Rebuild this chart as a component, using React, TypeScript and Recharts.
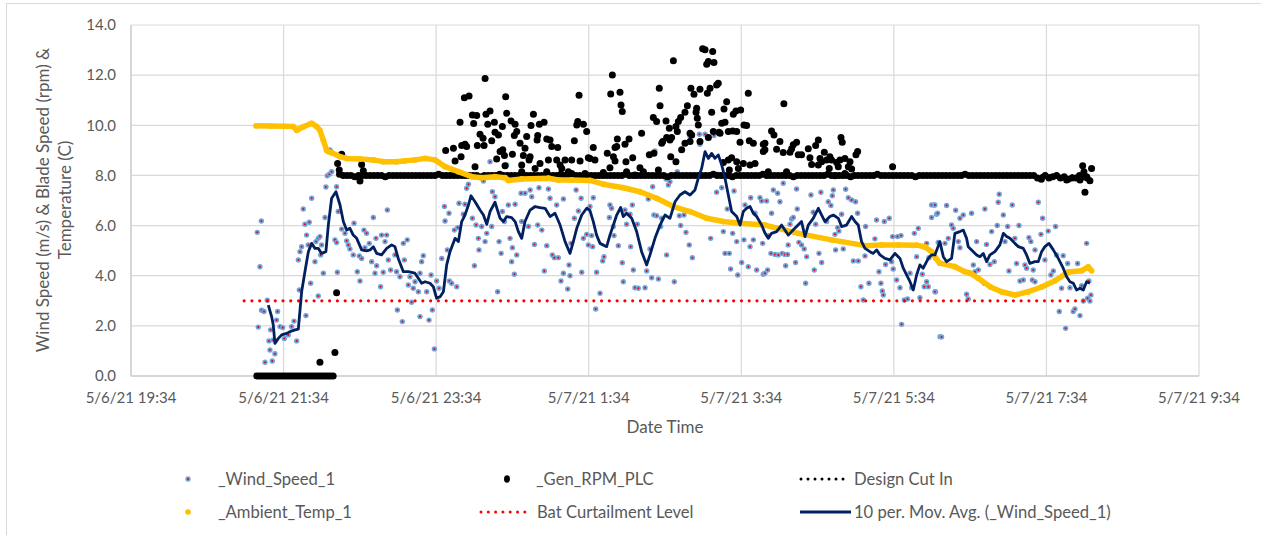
import React from 'react'
import { ScatterChart, Scatter, XAxis, YAxis, CartesianGrid } from 'recharts'

// x = minutes after 5/6/21 19:34
const xTicks = [0, 120, 240, 360, 480, 600, 720, 840]
const xTickLabels = ['5/6/21 19:34', '5/6/21 21:34', '5/6/21 23:34', '5/7/21 1:34', '5/7/21 3:34', '5/7/21 5:34', '5/7/21 7:34', '5/7/21 9:34']
const yTicks = [0, 2, 4, 6, 8, 10, 12, 14]

const windSpeed: number[][] = [
  [99.3,5.73],[102.5,6.18],[101.4,4.36],[107.2,3.02],[102.7,2.62],[104.6,2.57],[100.1,1.95],[105.4,0.55],[109.3,1.04],[111.1,0.6],
  [113.2,0.89],[109.8,1.84],[114.5,2.23],[115.3,2.57],[111.9,1.44],[108.5,1.4],[117.2,1.97],[119.3,1.93],[120.6,1.5],[123.7,1.64],
  [126.3,1.97],[128.2,2.19],[130.3,1.4],[132.4,3.43],[131.6,4.63],[132.9,4.96],[134.2,5.16],[135.5,6.66],[137.6,2.41],[136.8,6.05],
  [138.1,5.62],[139.4,5.23],[140.2,6.13],[141.3,3.7],[142.1,7.09],[144.7,4.56],[145.5,5.36],[147.3,5.49],[148.6,5.56],[149.9,5.23],
  [149.2,4.83],[147.3,3.19],[151.3,4.1],[152.6,6.32],[153.3,7.54],[154.4,7.99],[156,8.05],[157.8,8.15],[156.5,9.02],[161.7,7.55],
  [163,6.56],[160.4,5.43],[161.7,5.32],[162.3,4.14],[165.7,5.86],[168.3,5.69],[170.9,5.23],[172.2,5.07],[169.6,5.39],[175.4,6.09],
  [174.8,4.83],[178,4.16],[180.1,3.79],[179.6,4.79],[181.4,4.69],[183.2,5.82],[185.3,5.69],[184,5.12],[187.4,5.29],[189.3,4.56],
  [190.6,6.32],[192.7,5.49],[193.2,4.4],[191.9,4.1],[196.3,3.56],[197.1,5.62],[199.8,5.36],[201.1,5.62],[198.4,4.14],[201.6,6.62],
  [202.4,4.63],[204.2,4.23],[207.6,4.83],[208.9,4.16],[209.5,2.63],[213.4,2.17],[211.5,3.96],[215,4.63],[214.2,5.29],[217.3,5.43],
  [219.4,3.96],[220.7,2.94],[222,3.5],[218.1,3.63],
  [223.4,3.76],[227.3,4.1],[228.6,4.56],[229.9,4.8],[226,3.36],[227.3,2.37],[234.4,2.23],[232.6,3.36],[236,4.03],[237,2.63],
  [238.6,1.08],[240.4,3.79],[242.3,3.5],[244.4,4.69],[248.8,5.03],[250.4,3.79],[252.2,3.7],[256.2,3.56],[247,6.18],[250.1,6.49],
  [254.3,5.82],[257,5.92],[258,6.89],[262.7,6.85],[264,7.49],[265.4,7.65],[261.4,6.45],[268.5,6.29],[270.1,4.4],[271.4,6.02],
  [273.2,5.49],[273.7,5.03],[275.8,5.96],[278.5,5.36],[279.8,5.69],[283.7,5.96],[282.4,8.55],[284.2,7.35],[286.3,7.15],[289.5,5.36],
  [291.1,4.89],[292.1,6.56],[293.7,6.16],[288.4,3.36],[295.5,8.42],[296.8,6.82],[298.1,5.49],[300,5.12],[302.1,6.85],[303.4,4.83],
  [299.4,4.56],[301.5,4.06],[306.8,7.29],[307.3,6.16],[309.9,7.29],[312.6,5.96],[313.9,7.42],[315.2,7.15],[317.3,5.25],[320.9,7.51],
  [319.9,6.02],[323.1,5.82],[325.1,4.19],[327,5.2],[328.3,7.46],[329.6,7.09],[331.4,4.83],[333,4.72],[334.8,6.82],[336.1,4.72],
  [338.2,3.79],[340.1,7.06],[340.1,4.1],[343.5,3.47],[344.5,4.43],[345.3,4],[346.1,5.29],[348.7,6.29],[350.1,7.42],[351.9,6.58],
  [354.5,4.14],[354,7.09],[355.8,5.49],[358.4,5.65],[359.7,5.23],[277.2,7.78],[246.5,6.76],
  [363.6,7.11],[361,6.76],[362.3,5.6],[363.1,5.16],[366.2,4.14],[372,4.76],[371,4.59],[368.9,3.3],[365.5,2.67],[376.7,6.82],
  [378,6.69],[376.2,6.32],[379.4,5.96],[379.9,5.6],[383.3,5.2],[386.4,4.52],[387.2,3.76],[388.5,6.62],[392.5,6.45],[389.8,6.05],
  [394.3,6.82],[398.2,6.05],[393,5.16],[395.1,4.23],[396.4,3.52],[399,3.5],[404.3,3.52],[405.6,4.19],[408.2,5.07],[409.5,3.92],
  [414.8,3.87],[406.9,7.06],[410.3,7.55],[411.3,6.42],[413.4,6.39],[417.4,6.29],[416.6,5.96],[420.8,7.86],[422.6,7.62],[423.9,7.75],
  [429.7,8.15],[421.3,4.83],[427.3,3.76],[431.3,6.39],[432.3,6],[436.5,5.73],[434.9,6.42],[439.1,5.23],[441.5,4.72],[439.7,9.55],
  [447.5,9.24],[447,9.64],[451.5,9.64],[458.5,9.59],[462.7,9.72],[461.4,8.05],[460.6,7.33],[464.6,7.51],[455.9,5.49],[465.9,5.76],
  [469,6.66],[467.2,4.89],[470.6,4.89],[471.6,4.27],[473.2,5.69],[474.3,7.38],[476.4,5.36],[477.2,4.03],[480.3,4.53],[482.1,5.43],
  [482.9,6.82],[485.5,4.36],[486.9,5.16],[487.4,7.11],[489.5,5.43],[490.8,6.49],[492.1,4.23],[494.7,7.11],[496,6.98],[496.8,5.29],
  [497.3,4.06],[389.3,9.28],[412.1,8.98],
  [499.9,6.98],[501.2,5.6],[500.7,4.23],[498.6,4.1],[503.8,6.49],[505.2,7.42],[508.6,7.29],[510.4,6.95],[513,7.69],[503.3,4.89],
  [506.5,4.85],[509.1,4.83],[512.2,4.89],[514.3,4.85],[516.4,4.85],[516.9,5.23],[514.9,4.4],[518.3,6.05],[519.6,6.26],[520.9,6.32],
  [522.7,4.53],[523.5,7.46],[524,6.66],[525.3,5.33],[527.4,5.23],[529.5,5.07],[531.4,4.76],[530.6,3.7],[534.8,7.22],[536.6,6.53],
  [537.4,4.23],[538.5,6.05],[541.1,4.89],[543.2,4.53],[542.6,7.33],[547.1,6.16],[548.4,6.95],[550.5,6.8],[551.6,7.19],[552.4,7.42],
  [553.7,5.65],[554.2,5.03],[555.8,5.92],[556.8,5.78],[558.9,6.45],[560.2,5.07],[562.1,7.45],[564.2,7.11],[566.8,7.02],[569.9,6.95],
  [571.5,6.49],[568.1,4.59],[572,4.59],[577.3,4.79],[577.8,5.96],[574.1,3.56],[575.9,3.03],[580.4,3.7],[585.1,5.47],[586.4,6.22],
  [588.3,4.16],[589.8,3.7],[590.9,3.39],[591.7,3.23],[592.5,6.16],[593.5,4.45],[596.4,6.29],[598.2,4.56],[599.5,4.27],[599,5.56],
  [602.9,5.56],[605.6,5.6],[602.2,3.83],[604.8,3.52],[606.1,2.06],[608.2,3.03],[610.8,3.07],[612.7,4.1],[614,3.52],[616.1,5.69],
  [617.9,4.76],[619.2,5.89],[620.5,3.12],[622.4,4.06],[623.9,3.56],[625.8,3.76],[627.1,3.56],[625.8,5.29],[627.6,4.72],[629.7,6.82],
  [631.8,6.82],[629.7,6.32],[633.6,6.45],[632.8,3.36],[636.3,1.57],
  [632.3,6.82],[634.4,6.49],[632.3,3.36],[637.5,1.56],[641.5,6.8],[645.4,6.02],[642.8,5.49],[640.2,5.29],[634.9,5.33],[646.7,5.89],
  [648.6,6.61],[652,6.29],[654.6,6.42],[661.1,6.49],[650.7,5.36],[652,5.12],[657.2,3.26],[658.5,3.07],[662.5,4.43],[663.8,4.16],
  [665.1,5.36],[666.4,4.23],[671.1,3.7],[671.6,6.66],[672.9,5.25],[675.6,4.45],[676.9,5.76],[679,4.56],[681.3,6],[682.1,6.93],
  [682.9,7.25],[686.1,6.42],[687.4,5.36],[689.5,5.96],[690.5,4.19],[693.1,6.82],[695.2,5.49],[696.5,4.49],[698.4,6],[699.2,3.79],
  [701.8,3.83],[703.1,4.43],[704.4,4.3],[706.2,5.52],[707.8,5.36],[708.9,3.83],[711,5.03],[713.6,6.93],[715.7,5.65],[717,6.29],
  [718.8,4.63],[721.4,5.78],[723.5,4.03],[725.4,4.19],[727.2,5.96],[728,4.83],[730.1,2.57],[731.9,3.5],[733.2,4.8],[735.1,1.9],
  [736.7,4.49],[738.5,3.52],[741.1,2.57],[742.4,2.67],[744.5,4.49],[746.4,2.41],[747.7,3.6],[749,2.99],[751.6,5.29],[752.4,3.1],
  [753.4,3.79],[755,3.23],[754.2,2.99],[711,3.76],[709.6,4.23],
]

// generator RPM: idle samples (every 2 min from 99), cut-in band samples (every 3 min from 164), and excursions
const rpmIdleStart = 99
const rpmIdle = [0,0,0,0,0,0,0,0,0,0,0,0,0,0,0,0,0,0,0,0,0,0,0,0,0,0,0,0,0,0,0]
const rpmBandStart = 164
const rpmBand = [
  8.05,8,8,8,7.95,8,8,8,8,8,8,8,7.95,8,8,8,8,8,8,8,
  8,8,8,8,8,8,8.05,8,8,8,8,8,8,8,8,8,8,7.95,8,8,
  8,8,8.05,8,8,8,8,8,7.95,8,8,8,8,8,8,8,8,8,8.05,8,
  8,8,8,8,7.95,8,8,8,8,8,8,8,8,8,8,8.05,8,8,8,8,
  8,8,8,8,8,8,7.95,8,8,8,8,8,8,8,8,8,8,8,8.05,8,
  8,8,8,7.95,8,8,8,8,8,8,8,8.05,8,8,8,8,8,8,8,7.95,
  8,8,8,8,8,8,8,8,8.05,8,8,8,8,8,7.95,8,8,8,8,8,
  8,8.05,8,8,8,8,8,8,8,8,8,7.95,8,8,8,8,8,8,8,8,
  8,8,8,8,8.05,8,8,8,8,8,8,8,8,8,8,8,8,8,8,8,
  8,8,8,7.9,7.85,8,7.9,7.95,8,7.9,7.95,7.85,7.9,7.9,8,7.95,7.9,
]
const rpmExcursions: number[][] = [
  [148.6,0.55],[160.4,0.94],[161.7,3.32],[165.7,8.84],[162.5,8.48],[163.8,8.22],[181.4,8.44],[182.7,8.19],[178.8,7.95],[180.1,7.78],
  [278.5,11.87],[262.2,11.1],[265.9,11.17],[294.7,11.14],[352.4,11.2],[258.8,10.12],[268.5,10.41],[271.9,10.39],[279.2,10.44],[282.4,10.57],
  [280.6,10.04],[285.8,10.12],[295.5,10.48],[298.9,10.17],[302.1,10.04],[292.1,9.95],[269.5,10.07],[316.5,10.44],[314.6,9.99],[321.2,10.04],
  [324.9,10.12],[351.4,10.15],[350.6,10.01],[355.8,10.04],[358.4,9.75],[274.5,9.64],[286.3,9.72],[289,9.61],[276.9,9.48],[283.7,9.38],
  [301.5,9.59],[303.4,9.75],[306,9.28],[311.2,9.55],[319.9,9.59],[319.4,9.41],[327,9.45],[329.6,9.41],[330.9,9.15],[335.6,9.11],
  [348.7,9.38],[262.7,9.24],[264,9.15],[260.1,9.19],[272.4,9.19],[277.7,9.19],[247.5,8.99],[253.6,9.08],[259.6,8.75],[254.9,8.58],
  [290.3,8.95],[292.4,9.02],[293.7,8.79],[300,8.84],[309.9,9.08],[308.6,8.79],[313.9,8.75],[307.3,8.42],[313.1,8.62],[317.8,8.28],
  [321.7,8.48],[328.3,8.62],[334.8,8.62],[341.4,8.62],[346.6,8.62],[353.2,8.58],[359.7,8.71],[270.6,8.35],[287.6,8.66],[294.2,8.39],
  [307.3,8.15],[327,8.15],[337.5,8.42],[338.8,8.28],[344,8.15],[346.6,8.08],[357.1,8.08],
  [449.6,13.05],[451.5,13.01],[457.5,12.94],[452.8,12.43],[454.1,12.54],[458.5,12.5],[426.6,12.57],[378.6,12.01],[377.3,11.25],[384.6,11.32],
  [385.4,10.81],[386.4,10.55],[415.5,11.48],[416.1,10.78],[440.4,11.48],[442.8,11.24],[447.5,11.44],[453.3,11.28],[455.4,11.48],[460.6,11.61],
  [461.9,11.68],[485.5,11.28],[456.7,10.52],[437.6,10.78],[444.9,10.68],[444.4,10.52],[435.7,10.52],[432.3,10.31],[430.5,10.15],[410.8,10.31],
  [413.4,10.15],[420.8,10.17],[423.4,9.88],[428.6,9.95],[429.7,9.75],[439.7,9.68],[446.2,10.01],[445.4,10.28],[468.5,10.94],[466.4,10.65],
  [473.7,10.44],[475.8,10.57],[479.5,10.61],[464.6,10.08],[467.2,10.12],[463.3,9.68],[469.8,9.75],[473.2,9.77],[476.4,9.75],[482.1,10.01],
  [484.2,9.99],[479,9.32],[486.3,9.38],[489.5,9.28],[497.3,9.24],[401.6,9.68],[391.7,9.45],[388.5,9.24],[382.5,9.45],[382,9.15],
  [380.7,9.11],[363.6,9.11],[374.6,8.88],[379.4,8.75],[380.7,8.58],[364.9,8.62],[361,8.68],[394.6,8.71],[389.3,8.55],[407.7,8.82],
  [411.3,8.88],[418.2,9.35],[421.3,9.51],[423.9,9.41],[425.2,9.51],[417.4,9.28],[424.5,8.75],[428.6,8.55],[433.1,9.02],[435.7,9.28],
  [439.7,9.35],[441,9.61],[447.5,9.35],[454.1,9.51],[458,9.75],[462.5,9.72],[465.9,8.52],[469.8,8.62],[472.4,8.71],[476.4,8.55],
  [477.7,8.28],[481.6,8.48],[470.6,8.22],[490.8,8.48],[486.9,8.42],[497.3,8.95],[376.7,8.31],[371.5,8.12],[389.8,8.15],[400.3,8.31],
  [403,8.15],[414.8,8.22],[396.4,8.02],
  [513.5,10.86],[503.8,9.77],[505.7,9.61],[510.4,9.35],[523.5,9.32],[520.9,9.22],[540.6,9.41],[538.5,9.19],[558.4,9.51],[559.4,9.32],
  [571.5,8.95],[570.2,8.82],[507.8,9.04],[513,8.91],[518.3,8.92],[519.6,9.06],[524.8,8.82],[527.4,8.82],[532.7,9.06],[534,8.71],
  [545.3,8.92],[549.7,8.75],[551,8.62],[541.9,8.68],[543.2,8.55],[547.1,8.62],[535.3,8.44],[540.6,8.42],[557.6,8.62],[561.5,8.68],
  [565.5,8.55],[555,8.52],[498.6,9.28],[498.6,9.02],[501.2,8.15],[515.6,8.15],[549.2,8.28],[564.2,8.35],[566.8,8.26],[556.3,8.35],
  [561.5,8.08],[553.7,7.99],[599,8.35],
  [748.5,8.39],[755.5,8.28],[749.5,8.15],[751.6,7.95],[754.2,7.79],[746.4,7.82],[750.3,7.33],[735.9,7.82],
]

const designCutIn: number[][] = [[165, 8], [752, 8]]
const batCurtailment: number[][] = [[89, 3], [753, 3]]

const ambientTemp: number[][] = [
  [98.3,9.98],[110,9.97],[120,9.96],[127.7,9.95],[130.3,9.8],[136,9.95],[142.1,10.08],[146,9.95],[148.6,9.8],[151.3,9.4],
  [153.9,9],[155.2,8.95],[158,8.9],[164.4,8.75],[169.6,8.68],[180.1,8.66],[190.6,8.62],[198.4,8.55],[208.9,8.55],[215,8.58],
  [223.4,8.62],[231.3,8.68],[239.1,8.62],[247,8.35],[257.5,8.15],[268,7.95],[275.8,7.91],[286.3,7.95],[294.2,7.91],[296.8,7.8],
  [307.3,7.86],[328.3,7.89],[336.1,7.82],[346.6,7.82],[361,7.8],[371.5,7.65],[387.2,7.51],[400.3,7.35],[413.4,7.09],[426.6,6.76],
  [439.7,6.56],[452.8,6.29],[465.9,6.16],[479,6.09],[498.7,6.02],[524.8,5.69],[551,5.43],[577.3,5.2],[590.4,5.23],[603.5,5.23],
  [618,5.22],[624.5,5.15],[629.7,4.96],[633,4.7],[636,4.5],[648,4.36],[655.9,4.16],[660,4.1],[666.4,3.9],[676,3.55],
  [684.7,3.36],[695.2,3.23],[705.7,3.36],[716.2,3.55],[726.7,3.8],[737.2,4.15],[747.7,4.2],[752.9,4.35],[755.5,4.2],
]

const movingAvg: number[][] = [
  [108,2.83],[110.6,2.37],[111.9,2.03],[113.2,1.3],[115.9,1.5],[118.5,1.64],[122.4,1.7],[125,1.77],[129,1.84],[131.6,1.87],
  [134.2,3.36],[136.8,4.16],[139.5,4.96],[142.1,5.29],[144.7,5.09],[147.3,5.09],[149.9,4.89],[153.3,4.96],[155.2,6.02],[157.8,7.09],
  [161.2,7.35],[164.4,6.82],[167,6.16],[169.6,5.82],[172.2,5.89],[174.8,5.62],[177.5,5.49],[181.4,5.03],[185.3,4.99],[188,5.03],
  [190.6,5.16],[193.2,4.89],[197.1,4.83],[201.1,5.09],[205,5.23],[207.6,5.16],[210.2,4.69],[214.2,4.16],[218.1,4.16],[223.3,4.1],
  [226,3.9],[228.6,3.7],[231.3,3.76],[235.2,3.7],[237.8,3.56],[240.4,3.1],[243.1,3.16],[245.7,3.36],[248.3,4.43],[250.9,4.96],
  [254.9,5.49],[257.5,5.36],[260.1,6.16],[262.7,6.42],[265.4,6.82],[267.4,7.19],[270.6,6.95],[274.5,6.62],[277.2,6.42],[279.8,6.05],
  [282.4,6.56],[286.3,6.93],[290.3,6.29],[292.9,6.16],[295.5,6.36],[299.4,6.32],[302.1,6.16],[304.7,5.76],[307.3,5.49],[309.9,6.16],
  [313.9,6.62],[317.8,6.76],[321.7,6.72],[325.7,6.69],[329.6,6.36],[333.5,6.49],[337.5,6.02],[341.4,5.36],[345.3,4.89],[347.9,5.36],
  [350.6,5.89],[354.5,6.42],[358.4,6.69],[361,6.6],[363.6,6.16],[366.2,5.62],[368.9,5.29],[374.1,5.16],[376.7,5.62],[379.4,6.02],
  [382,6.42],[385.1,6.72],[387.2,6.36],[389.8,6.49],[393.8,6.29],[397.7,5.76],[401.6,4.96],[405.6,4.43],[408.2,4.83],[412.1,5.49],
  [416.1,6.02],[420,6.42],[423.9,6.29],[427.9,6.95],[431.8,7.22],[435.7,7.35],[439.7,7.22],[443.6,7.42],[446.2,7.89],[448.8,8.28],
  [451.5,8.95],[454.1,8.68],[456.7,8.88],[459.3,8.68],[461.9,8.82],[464.6,8.42],[467.2,7.89],[469.8,7.22],[472.4,6.56],[476.4,6.36],
  [479,6.02],[481.6,6.56],[484.2,6.69],[486.9,6.76],[489.5,6.49],[492.1,6.36],[496,6.02],[498.7,5.69],[501.2,5.49],[503.8,5.69],
  [507.8,5.76],[511.7,6.02],[514.3,5.82],[517,5.62],[519.6,5.76],[523.5,5.96],[527.4,6.16],[530.1,5.56],[532.7,6.02],[536.6,6.29],
  [540.6,6.69],[543.2,6.42],[545.8,6.16],[549.7,6.36],[552.4,6.42],[556.3,6.29],[558.9,5.96],[562.8,6.02],[566.8,6.36],[569.4,6.16],
  [572,6.02],[574.6,5.36],[577.3,5.09],[581.2,4.96],[583.8,4.89],[586.4,5.03],[589.1,4.83],[593,4.69],[596.9,4.63],[600.9,4.89],
  [604.8,4.69],[607.4,4.3],[610,4.03],[612.7,3.76],[615.3,3.43],[617.9,4.03],[620.5,4.43],[623.1,4.3],[627.1,4.69],[629.7,4.83],
  [632.3,4.83],[636.2,5.36],[638.9,4.76],[641.5,4.56],[645.4,4.69],[648,5.69],[652,5.76],[654.6,5.82],[657.2,5.49],[658.5,5.16],
  [662.5,4.96],[665.1,4.83],[667.7,4.76],[670.3,4.89],[673,4.56],[675.6,4.83],[679.5,4.96],[683.4,5.23],[686.1,5.69],[688.7,5.56],
  [691.3,5.49],[695.2,5.29],[697.9,5.16],[701.8,5.09],[704.4,4.83],[707,4.49],[711,4.56],[713.6,4.56],[716.2,4.96],[718.8,5.16],
  [722,5.29],[725.4,5.03],[729.3,4.69],[733.2,4.3],[735.9,3.96],[738.5,3.76],[741.1,3.7],[743.7,3.43],[746.4,3.5],[749,3.43],
  [751.6,3.76],[754.2,3.7],
]

const TEXT = '#595959'
const GRID = '#d9d9d9'
const FONT = 'Lato, "Open Sans", sans-serif'

const pts = (rows: number[][]) => rows.map(([x, y]) => ({ x, y }))
const sampled = (start: number, step: number, vals: number[]) => vals.map((y, i) => ({ x: start + i * step, y }))

const rpmData = [...sampled(rpmIdleStart, 2, rpmIdle), ...sampled(rpmBandStart, 3, rpmBand), ...pts(rpmExcursions)]

const WindDot = (p: any) => (
  <g>
    <circle cx={p.cx} cy={p.cy} r={2.7} fill="#6fa6dc" />
    <circle cx={p.cx} cy={p.cy} r={1} fill="#e3001b" />
  </g>
)
const RpmDot = (p: any) => <circle cx={p.cx} cy={p.cy} r={3.5} fill="#000" />
const TempDot = (p: any) => <circle cx={p.cx} cy={p.cy} r={2.9} fill="#ffc000" />
const NoDot = () => <g />

function Legend() {
  const t = { fontFamily: FONT, fontSize: 16.6, fill: TEXT } as const
  return (
    <svg width={1261} height={535} style={{ position: 'absolute', left: 0, top: 0, pointerEvents: 'none' }}>
      <text transform="rotate(-90)" x={-200} y={49} textAnchor="middle" style={{ fontFamily: FONT, fontSize: 17, fill: TEXT }}>
        Wind Speed (m/s) &amp; Blade Speed (rpm) &amp;
      </text>
      <text transform="rotate(-90)" x={-200} y={71} textAnchor="middle" style={{ fontFamily: FONT, fontSize: 17, fill: TEXT }}>
        Temperature (C)
      </text>
      <text x={665} y={433} textAnchor="middle" style={{ fontFamily: FONT, fontSize: 17, fill: TEXT }}>Date Time</text>

      <circle cx={188} cy={479} r={2.7} fill="#6fa6dc" />
      <circle cx={188} cy={479} r={1} fill="#e3001b" />
      <text x={218} y={485} style={t}>_Wind_Speed_1</text>
      <ellipse cx={507} cy={479} rx={3} ry={3.8} fill="#000" />
      <text x={536} y={485} style={t}>_Gen_RPM_PLC</text>
      <line x1={801} y1={479} x2={850} y2={479} stroke="#000" strokeWidth={3} strokeDasharray="0 7" strokeLinecap="round" />
      <text x={854} y={485} style={t}>Design Cut In</text>

      <circle cx={188} cy={512} r={2.8} fill="#ffc000" />
      <text x={218} y={518} style={t}>_Ambient_Temp_1</text>
      <line x1={481} y1={512} x2={532} y2={512} stroke="#f00" strokeWidth={3} strokeDasharray="0 7.3" strokeLinecap="round" />
      <text x={537} y={518} style={t}>Bat Curtailment Level</text>
      <line x1={800} y1={512} x2={851} y2={512} stroke="#002060" strokeWidth={3} />
      <text x={854} y={518} style={t}>10 per. Mov. Avg. (_Wind_Speed_1)</text>
    </svg>
  )
}

export default function App() {
  return (
    <div style={{ position: 'absolute', left: 0, top: 0, width: 1261, height: 535, background: '#fff', overflow: 'hidden' }}>
      <div style={{ position: 'absolute', left: 6, top: 3, width: 1300, height: 600, borderTop: `1px solid ${GRID}`, borderLeft: `1px solid ${GRID}` }} />
      <ScatterChart width={1261} height={535} margin={{ top: 25, right: 62, bottom: 129, left: 71 }} style={{ position: 'absolute', left: 0, top: 0 }}>
        <CartesianGrid stroke={GRID} strokeWidth={1.2} />
        <XAxis
          type="number"
          dataKey="x"
          domain={[0, 840]}
          ticks={xTicks}
          tickFormatter={(v: number) => xTickLabels[xTicks.indexOf(v)]}
          height={30}
          tickLine={false}
          tickMargin={10}
          axisLine={{ stroke: '#d0d0d0', strokeWidth: 1.5 }}
          tick={{ fill: TEXT, fontSize: 15, fontFamily: FONT }}
          interval={0}
        />
        <YAxis
          type="number"
          dataKey="y"
          domain={[0, 14]}
          ticks={yTicks}
          tickFormatter={(v: number) => v.toFixed(1)}
          width={60}
          tickLine={false}
          tickMargin={9}
          axisLine={{ stroke: '#d0d0d0', strokeWidth: 1.5 }}
          tick={{ fill: TEXT, fontSize: 15, fontFamily: FONT }}
        />
        <Scatter name="_Wind_Speed_1" data={pts(windSpeed)} shape={WindDot} isAnimationActive={false} />
        <Scatter name="_Gen_RPM_PLC" data={rpmData} shape={RpmDot} isAnimationActive={false} />
        <Scatter
          name="Design Cut In"
          data={pts(designCutIn)}
          shape={NoDot}
          line={{ stroke: '#000', strokeWidth: 3, strokeDasharray: '0 7.7', strokeLinecap: 'round' }}
          isAnimationActive={false}
        />
        <Scatter
          name="_Ambient_Temp_1"
          data={pts(ambientTemp)}
          shape={TempDot}
          line={{ stroke: '#ffc000', strokeWidth: 5.5, strokeLinejoin: 'round' }}
          isAnimationActive={false}
        />
        <Scatter
          name="Bat Curtailment Level"
          data={pts(batCurtailment)}
          shape={NoDot}
          line={{ stroke: '#f00', strokeWidth: 3.2, strokeDasharray: '0 7.77', strokeLinecap: 'round' }}
          isAnimationActive={false}
        />
        <Scatter
          name="10 per. Mov. Avg. (_Wind_Speed_1)"
          data={pts(movingAvg)}
          shape={NoDot}
          line={{ stroke: '#002060', strokeWidth: 2.8, strokeLinejoin: 'round' }}
          isAnimationActive={false}
        />
      </ScatterChart>
      <Legend />
    </div>
  )
}
